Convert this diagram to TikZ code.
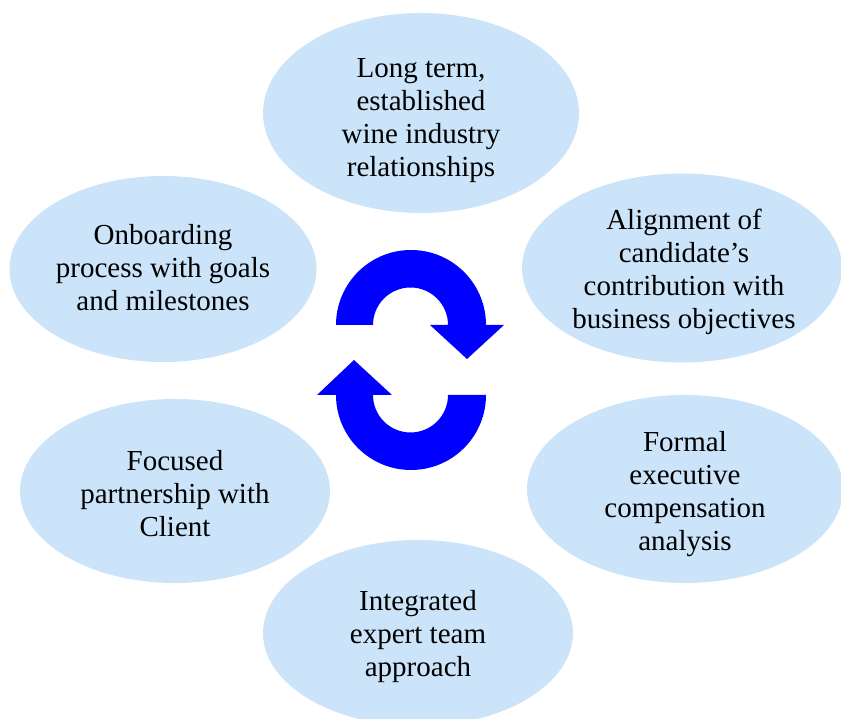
\documentclass[tikz,border=0pt]{standalone}
\usepackage{fontspec}
\setmainfont{Liberation Serif}
\usetikzlibrary{calc,shapes.geometric}
\definecolor{bubbleblue}{RGB}{204,228,250}

\begin{document}
\begin{tikzpicture}[x=1pt, y=1pt]
    \tikzstyle{bubble}=[ellipse, fill=bubbleblue, inner sep=0pt];
    \tikzstyle{bubble text}=[align=center, font=\fontsize{29}{33}\selectfont];
    \tikzstyle{cycle arrow}=[fill={rgb,255:red,0;green,0;blue,255}];

    \useasboundingbox (0,0) rectangle (841,719);
    \clip (0,0) rectangle (841,719);

    % the six ellipses
    \foreach \name / \x / \y / \w / \h in {longterm/421/606/316/200, onboard/163/450/307/186,
        align/682/451/320/189, formal/685/230/316/188, focused/175/228/310/184, integrated/418/86/310/186} {
      \node[bubble, minimum width=\w pt, minimum height=\h pt] (\name) at (\x,\y) {};
    }

    \node[bubble text] (longterm text) at ($(longterm)+(0,-8)$) {Long term,\\established\\wine industry\\relationships};
    \node[bubble text] (onboard text) at ($(onboard)+(0,1)$) {Onboarding\\process with goals\\and milestones};
    \node[bubble text] (align text) at ($(align)+(2,-4)$) {Alignment of\\candidate’s\\contribution with\\business objectives};
    \node[bubble text] (formal text) at ($(formal)+(0,-5)$) {Formal\\executive\\compensation\\analysis};
    \node[bubble text] (focused text) at ($(focused)+(0,-3)$) {Focused\\partnership with\\Client};
    \node[bubble text] (integrated text) at ($(integrated)+(0,-4)$) {Integrated\\expert team\\approach};

    % circular arrows in the middle
    \fill[cycle arrow] (336,394) arc[start angle=180, end angle=0, radius=75pt]
      -- (504,394) -- (467,360) -- (430,394) -- (448,394)
      arc[start angle=0, end angle=180, radius=37.5pt] -- cycle;
    \fill[cycle arrow] (486,324) arc[start angle=0, end angle=-180, radius=75pt]
      -- (317,324) -- (354,359) -- (392,324) -- (373,324)
      arc[start angle=180, end angle=360, radius=37.5pt] -- cycle;
  \end{tikzpicture}
\end{document}
